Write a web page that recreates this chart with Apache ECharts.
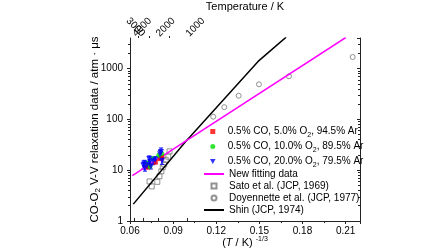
<!DOCTYPE html>
<html>
<head>
<meta charset="utf-8">
<script src="https://cdn.jsdelivr.net/npm/echarts@6/dist/echarts.min.js"></script>
<style>
  html, body { margin: 0; padding: 0; background: #fff; }
  #chart { width: 448px; height: 252px; }
</style>
</head>
<body>
<div id="chart"></div>
<script>
// x = (T/K)^(-1/3), y = relaxation data / atm·μs
const mix5 = [[0.0720, 11.5], [0.0734, 12.4], [0.0776, 14.4], [0.0809, 16.9], [0.0821, 18.1]]
const mix10 = [[0.0716, 13.8], [0.0739, 11.8], [0.0758, 16.9], [0.0800, 19.6], [0.0821, 21.2]]
const mix20 = [[0.0693, 12.4], [0.0700, 13.6], [0.0704, 10.9], [0.0720, 12.6], [0.0734, 16.6], [0.0739, 14.4],
  [0.0745, 12.0], [0.0762, 15.1], [0.0776, 16.1], [0.0809, 20.5], [0.0816, 22.8], [0.0823, 15.4]]
const mix20Err = [0.15, 0.15, 0.12, 0.15, 0.15, 0.12, 0.12, 0.15, 0.15, 0.2, 0.2, 0.15]
const fitLine = [[0.0616, 7.85], [0.2101, 4090]]
const sato = [[0.0736, 6.0], [0.0751, 4.8], [0.0790, 5.9], [0.0805, 7.6], [0.0818, 9.5], [0.0828, 11.5],
  [0.0838, 13.0], [0.0848, 16.0], [0.0866, 18.5], [0.0875, 23.5]]
const doyennette = [[0.1179, 113], [0.1256, 174], [0.1356, 292], [0.1497, 490], [0.1706, 706], [0.2149, 1690]]
const shin = [[0.0623, 2.15], [0.0983, 35.5], [0.1491, 1384], [0.1686, 4150]]

const tempMajor = [4000, 3000, 2000, 1000]
const tempLabelsA = [4000, 2000, 1000]
const tempLabelsB = [3000]
const tempMinor = [3500, 2500, 1500]
const yMinorTicks = [2, 3, 4, 5, 6, 7, 8, 9, 20, 30, 40, 50, 60, 70, 80, 90,
  200, 300, 400, 500, 600, 700, 800, 900, 2000, 3000]

const font = 'Liberation Sans, Arial, sans-serif'
const axisColor = '#222'
const toX = (t) => Math.pow(t, -1 / 3)
const fromX = (v) => String(Math.round(Math.pow(v, -3) / 10) * 10)
const legendNames1 = ['0.5% CO, 5.0% O2, 94.5% Ar', '0.5% CO, 10.0% O2, 89.5% Ar', '0.5% CO, 20.0% O2, 79.5% Ar']
const legendNames2 = ['New fitting data', 'Sato et al. (JCP, 1969)', 'Doyennette et al. (JCP, 1977)', 'Shin (JCP, 1974)']

const squareIcon = 'path://M0,0L10,0L10,10L0,10Z'
const triDownIcon = 'path://M0,0L10,0L5,9Z'
const hiddenSymbol = { color: 'rgba(0,0,0,0)', borderWidth: 0, opacity: 0 }

function renderErr(params, api) {
  const x = api.value(0)
  const a = api.coord([x, api.value(1)])
  const b = api.coord([x, api.value(2)])
  const w = 2
  const st = { stroke: '#0000ff', lineWidth: 1 }
  return {
    type: 'group',
    children: [
      { type: 'line', shape: { x1: a[0], y1: a[1], x2: b[0], y2: b[1] }, style: st },
      { type: 'line', shape: { x1: a[0] - w, y1: a[1], x2: a[0] + w, y2: a[1] }, style: st },
      { type: 'line', shape: { x1: b[0] - w, y1: b[1], x2: b[0] + w, y2: b[1] }, style: st },
    ],
  }
}

const chart = echarts.init(document.getElementById('chart'))

const lineAx = { show: true, lineStyle: { color: axisColor, width: 1 } }
const noLabel = { show: false }

chart.setOption({
  animation: false,
  textStyle: { fontFamily: font },
  grid: { left: 130, right: 88, top: 38, bottom: 31, containLabel: false, outerBoundsMode: 'none' },
  legend: [
    {
      data: [
        { name: legendNames1[0], icon: squareIcon },
        { name: legendNames1[1], icon: 'circle' },
        { name: legendNames1[2], icon: triDownIcon },
      ],
      orient: 'vertical',
      left: 210,
      top: 124.5,
      padding: 0,
      itemGap: 1,
      itemWidth: 20,
      itemHeight: 5,
      symbolKeepAspect: true,
      selectedMode: false,
      formatter: (n) => n.replace('O2', 'O{s|2}'),
      textStyle: {
        fontFamily: font, fontSize: 10, color: '#000', lineHeight: 14,
        rich: { s: { fontFamily: font, fontSize: 7, lineHeight: 7, verticalAlign: 'bottom', color: '#000' } },
      },
    },
    {
      data: [
        { name: legendNames2[0], itemStyle: hiddenSymbol },
        { name: legendNames2[1], icon: squareIcon },
        { name: legendNames2[2], icon: 'circle' },
        { name: legendNames2[3], itemStyle: hiddenSymbol },
      ],
      orient: 'vertical',
      left: 203,
      top: 168,
      padding: 0,
      itemGap: 0,
      itemWidth: 20,
      itemHeight: 5,
      symbolKeepAspect: true,
      selectedMode: false,
      textStyle: { fontFamily: font, fontSize: 10, color: '#000', lineHeight: 12 },
    },
  ],
  xAxis: [
    {
      type: 'value',
      position: 'bottom',
      min: 0.06,
      max: 0.22,
      interval: 0.03,
      axisLine: lineAx,
      axisTick: { show: true, length: 3, lineStyle: { color: axisColor } },
      minorTick: { show: true, splitNumber: 2, length: 2, lineStyle: { color: axisColor } },
      splitLine: { show: false },
      axisLabel: {
        margin: 5, fontSize: 10, color: '#000', fontFamily: font, showMaxLabel: false,
        formatter: (v) => v.toFixed(2),
      },
      name: '({i|T} / K) {sup|-1/3}',
      nameLocation: 'middle',
      nameGap: 15,
      nameMoveOverlap: false,
      nameTextStyle: {
        fontFamily: font, fontSize: 11, color: '#000', lineHeight: 14,
        rich: {
          i: { fontFamily: font, fontSize: 11, fontStyle: 'italic', color: '#000' },
          sup: { fontFamily: font, fontSize: 7, lineHeight: 7, verticalAlign: 'top', color: '#000' },
        },
      },
    },
    {
      type: 'value',
      position: 'top',
      min: 0.06,
      max: 0.22,
      axisLine: lineAx,
      splitLine: { show: false },
      axisTick: { show: true, length: 3, customValues: tempMajor.map(toX), lineStyle: { color: axisColor } },
      axisLabel: {
        show: true, rotate: 45, margin: 3, fontSize: 10, color: '#000', fontFamily: font,
        hideOverlap: false, showMinLabel: true, showMaxLabel: true,
        customValues: tempLabelsA.map(toX),
        formatter: fromX,
      },
      name: 'Temperature / K',
      nameLocation: 'middle',
      nameGap: 26,
      nameMoveOverlap: false,
      nameTextStyle: { fontFamily: font, fontSize: 11, color: '#000' },
    },
    {
      type: 'value',
      position: 'top',
      min: 0.06,
      max: 0.22,
      axisLine: { show: false },
      splitLine: { show: false },
      axisTick: { show: false },
      axisLabel: {
        show: true, rotate: 45, margin: 3, fontSize: 10, color: '#000', fontFamily: font,
        hideOverlap: false, showMinLabel: true, showMaxLabel: true,
        customValues: tempLabelsB.map(toX),
        formatter: fromX,
      },
    },
    {
      type: 'value',
      position: 'top',
      min: 0.06,
      max: 0.22,
      axisLine: { show: false },
      splitLine: { show: false },
      axisLabel: noLabel,
      axisTick: { show: true, length: 2, customValues: tempMinor.map(toX), lineStyle: { color: axisColor } },
    },
  ],
  yAxis: [
    {
      type: 'log',
      logBase: 10,
      position: 'left',
      min: 1,
      max: 4000,
      axisLine: lineAx,
      axisTick: { show: true, length: 3, lineStyle: { color: axisColor } },
      splitLine: { show: false },
      axisLabel: {
        margin: 7, fontSize: 10, color: '#000', fontFamily: font, showMaxLabel: false,
        formatter: (v) => String(Math.round(v)),
      },
      name: 'CO-O{s|2} V-V relaxation data / atm · μs',
      nameLocation: 'middle',
      nameGap: 28,
      nameMoveOverlap: false,
      nameTextStyle: {
        fontFamily: font, fontSize: 11.5, color: '#000', lineHeight: 14,
        rich: { s: { fontFamily: font, fontSize: 8, lineHeight: 8, verticalAlign: 'bottom', color: '#000' } },
      },
    },
    {
      type: 'value',
      position: 'left',
      min: 0,
      max: Math.log10(4000),
      axisLine: { show: false },
      splitLine: { show: false },
      axisLabel: noLabel,
      axisTick: { show: true, length: 2, customValues: yMinorTicks.map(Math.log10), lineStyle: { color: axisColor } },
    },
    {
      type: 'log',
      logBase: 10,
      position: 'right',
      min: 1,
      max: 4000,
      axisLine: lineAx,
      axisTick: { show: true, inside: true, length: 3, lineStyle: { color: axisColor } },
      splitLine: { show: false },
      axisLabel: noLabel,
    },
    {
      type: 'value',
      position: 'right',
      min: 0,
      max: Math.log10(4000),
      axisLine: { show: false },
      splitLine: { show: false },
      axisLabel: noLabel,
      axisTick: { show: true, inside: true, length: 2, customValues: yMinorTicks.map(Math.log10), lineStyle: { color: axisColor } },
    },
  ],
  series: [
    {
      name: legendNames2[1],
      type: 'scatter',
      symbol: 'rect',
      symbolSize: 5,
      itemStyle: { color: 'rgba(255,255,255,0)', borderColor: '#777', borderWidth: 1 },
      data: sato,
    },
    {
      name: legendNames2[2],
      type: 'scatter',
      symbol: 'circle',
      symbolSize: 5,
      itemStyle: { color: 'rgba(255,255,255,0)', borderColor: '#777', borderWidth: 1 },
      data: doyennette,
    },
    {
      name: legendNames2[3],
      type: 'line',
      symbol: 'none',
      clip: true,
      lineStyle: { color: '#000', width: 1.5 },
      itemStyle: { color: '#000' },
      data: shin,
    },
    {
      name: legendNames2[0],
      type: 'line',
      symbol: 'none',
      clip: true,
      lineStyle: { color: '#ff00ff', width: 1.5 },
      itemStyle: { color: '#ff00ff' },
      data: fitLine,
    },
    {
      name: 'err',
      type: 'custom',
      renderItem: renderErr,
      encode: { x: 0, y: [1, 2] },
      data: mix20.map((p, i) => [p[0], p[1] * (1 - mix20Err[i]), p[1] * (1 + mix20Err[i])]),
      z: 3,
    },
    {
      name: legendNames1[0],
      type: 'scatter',
      symbol: 'rect',
      symbolSize: 5,
      itemStyle: { color: '#ff0000' },
      data: mix5,
      z: 4,
    },
    {
      name: legendNames1[1],
      type: 'scatter',
      symbol: 'circle',
      symbolSize: 5,
      itemStyle: { color: '#00e000' },
      data: mix10,
      z: 4,
    },
    {
      name: legendNames1[2],
      type: 'scatter',
      symbol: 'triangle',
      symbolRotate: 180,
      symbolSize: 6,
      itemStyle: { color: '#0000ff' },
      data: mix20,
      z: 5,
    },
  ],
})
</script>
</body>
</html>
